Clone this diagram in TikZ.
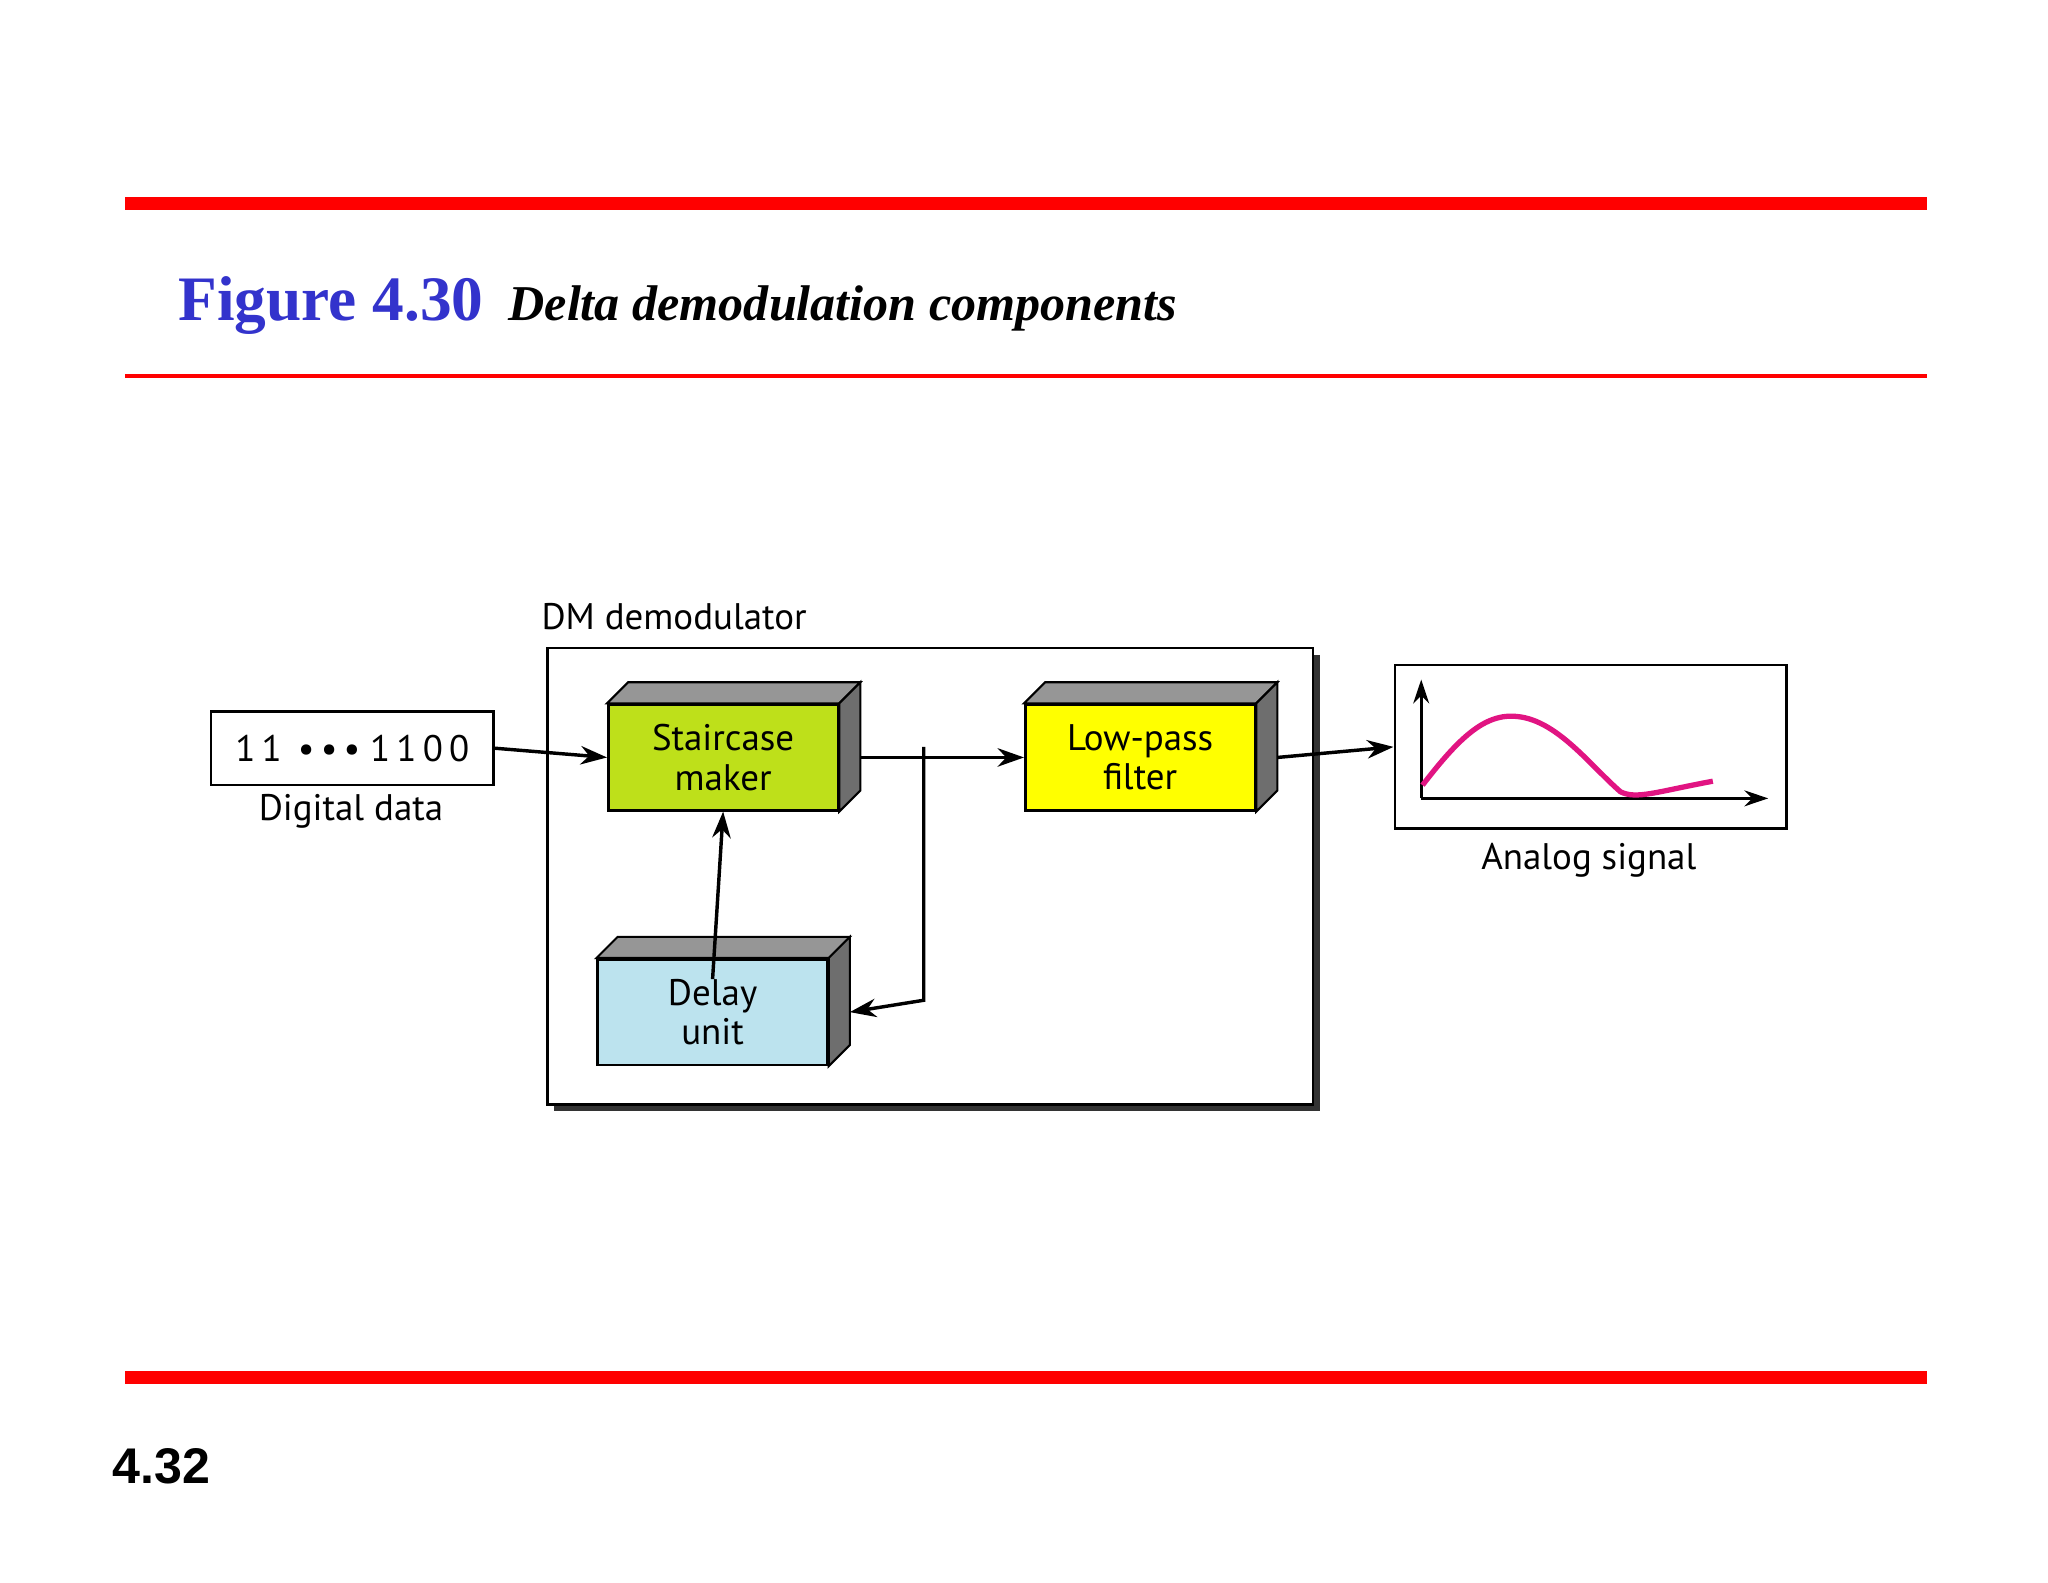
\documentclass[tikz,border=0pt]{standalone}
\usepackage{fontspec}
\setmainfont{PT Sans}
\newfontfamily\titlefont{Liberation Serif}
\newfontfamily\numfont{Liberation Sans}
\usetikzlibrary{arrows.meta,calc}
\definecolor{redline}{RGB}{255,0,0}
\definecolor{titleblue}{RGB}{51,51,204}
\definecolor{stairgreen}{RGB}{190,224,26}
\definecolor{lpyellow}{RGB}{255,255,0}
\definecolor{delayblue}{RGB}{188,227,238}
\definecolor{topgray}{RGB}{150,150,150}
\definecolor{sidegray}{RGB}{110,110,110}
\definecolor{curvemag}{RGB}{225,20,130}
\tikzset{
  px/.style={x=0.5pt,y=-0.5pt},
  blockface/.style={draw=black,line width=1pt,minimum width=87pt,minimum height=40pt,inner sep=0pt,align=center,font=\fontsize{14}{15}\selectfont},
  conn/.style={line width=1.3pt,-{Stealth[length=10pt,width=7pt]}},
  lbl/.style={font=\fontsize{14}{15}\selectfont,inner sep=0pt},
}
\newcommand{\threed}[1]{%
  \fill[topgray,draw=black,line width=0.8pt] (#1.north west) -- ++(8pt,8pt) -- ($(#1.north east)+(8pt,8pt)$) -- (#1.north east) -- cycle;
  \fill[sidegray,draw=black,line width=0.8pt] (#1.north east) -- ++(8pt,8pt) -- ($(#1.south east)+(8pt,8pt)$) -- (#1.south east) -- cycle;}
\begin{document}
\begin{tikzpicture}[px]
\useasboundingbox (0,0) rectangle (1552,1199);
\fill[white] (0,0) rectangle (1552,1199);
% rules
\draw[redline,line width=5pt] (95,154) -- (1460,154);
\draw[redline,line width=1.5pt] (95,285) -- (1460,285);
\draw[redline,line width=5pt] (95,1044) -- (1460,1044);
% title
\node[anchor=base west,inner sep=0pt,text=titleblue,font=\titlefont\bfseries\fontsize{24}{26}\selectfont] (fig) at (135,243) {Figure 4.30};
\node[anchor=base west,inner sep=0pt,font=\titlefont\bfseries\itshape\fontsize{19}{21}\selectfont] (cap) at (385,243) {Delta demodulation components};
\node[anchor=base west,inner sep=0pt,font=\numfont\bfseries\fontsize{19}{21}\selectfont] (pg) at (85,1124) {4.32};
% DM box
\fill[black!80] (420,496) rectangle (1000,842);
\node[draw=black,fill=white,line width=1pt,minimum width=290pt,minimum height=173pt,inner sep=0pt,anchor=north west] (dm) at (414,490) {};
\node[lbl,anchor=south west] (dml) at (410,478) {DM demodulator};
% digital data
\node[draw=black,line width=1pt,minimum width=107pt,minimum height=28pt,inner sep=0pt,font=\fontsize{14}{15}\selectfont,anchor=north west] (dd) at (159,538) {1\,1 \,•\,•\,• 1\,1\,0\,0};
\node[lbl] (ddl) at (266,615) {Digital data};
% blocks
\node[blockface,fill=stairgreen,anchor=north west] (sm) at (460,533) {Staircase\\maker};
\threed{sm}
\node[blockface,fill=lpyellow,anchor=north west] (lp) at (776,533) {Low-pass\\filter};
\threed{lp}
\node[blockface,fill=delayblue,anchor=north west] (du) at (452,726) {Delay\\unit};
\threed{du}
% analog
\node[draw=black,line width=1pt,minimum width=148.5pt,minimum height=62pt,inner sep=0pt,anchor=north west] (an) at (1056,503) {};
\coordinate (o) at (1077,605);
\coordinate (ytop) at (1077,515);
\coordinate (xend) at (1340,605);
\draw[line width=1.2pt,-{Stealth[length=9pt,width=6pt]}] (o) -- (ytop);
\draw[line width=1.2pt,-{Stealth[length=9pt,width=6pt]}] (o) -- (xend);
\draw[curvemag,line width=2pt] (1078,595) .. controls (1105,560) and (1125,540) .. (1150,543) .. controls (1180,546) and (1205,580) .. (1228,600) .. controls (1240,606) and (1255,600) .. (1298,592);
\node[lbl] (anl) at (1204,652) {Analog signal};
% connectors
\draw[conn] (dd.east) -- (sm.west);
\coordinate (smout) at ($(sm.east)+(8pt,0)$);
\coordinate (br) at (700,566);
\draw[conn] (smout) -- (lp.west);
\coordinate (brd) at (700,758);
\draw[conn] (br) -- (brd) -- ($(du.east)+(8pt,0)$);
\draw[conn] ($(du.north)+(0,-8pt)$) -- (sm.south);
\draw[conn] ($(lp.east)+(8pt,0)$) -- (an.west);
\end{tikzpicture}
\end{document}
